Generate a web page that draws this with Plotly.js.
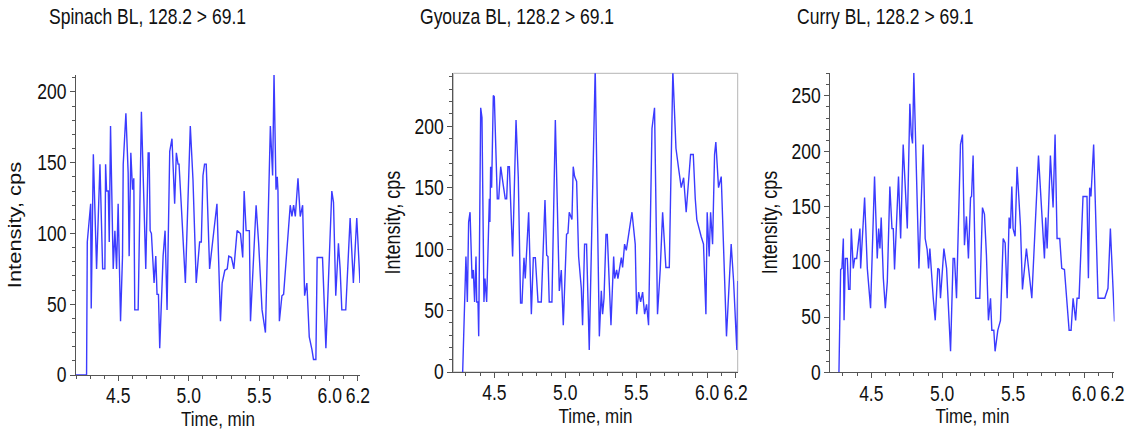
<!DOCTYPE html>
<html>
<head>
<meta charset="utf-8">
<script src="https://cdn.plot.ly/plotly-3.0.1.min.js"></script>
<style>html,body{margin:0;padding:0;background:#fff;}#chart{width:1133px;height:436px;}</style>
</head>
<body>
<div id="chart"></div>
<script>
// ---- data ----
const panelTitles = ["Spinach BL, 128.2 > 69.1", "Gyouza BL, 128.2 > 69.1", "Curry BL, 128.2 > 69.1"];
const xTickVals = [4.5, 5.0, 5.5, 6.0, 6.2];
const xTickText = ["4.5", "5.0", "5.5", "6.0", "6.2"];
const xTitle = "Time, min";
const yTitle = "Intensity, cps";

const spinachTime = [4.200,4.275,4.280,4.304,4.308,4.323,4.346,4.370,4.389,4.405,
4.410,4.417,4.429,4.436,4.445,4.464,4.476,4.488,4.499,4.516,
4.530,4.535,4.554,4.570,4.577,4.589,4.601,4.610,4.617,4.641,
4.664,4.695,4.712,4.719,4.726,4.735,4.754,4.766,4.775,4.785,
4.794,4.818,4.832,4.846,4.865,4.881,4.900,4.912,4.924,4.931,
4.947,4.976,5.011,5.030,5.053,5.077,5.089,5.101,5.112,5.124,
5.148,5.167,5.176,5.200,5.225,5.237,5.256,5.273,5.284,5.303,
5.320,5.343,5.367,5.383,5.393,5.407,5.430,5.438,5.478,5.496,
5.520,5.544,5.579,5.595,5.605,5.619,5.628,5.633,5.643,5.661,
5.673,5.720,5.732,5.744,5.756,5.775,5.791,5.808,5.822,5.838,
5.855,5.874,5.885,5.902,5.911,5.949,5.973,6.015,6.027,6.043,
6.062,6.074,6.086,6.114,6.145,6.168,6.192,6.215];
const spinachValue = [0,0,94,121,47,156,75,149,75,75,
149,130,130,94,176,75,102,75,121,38,
84,149,185,143,84,157,131,139,46,46,
186,75,157,157,102,100,65,84,57,57,
19,84,102,46,158,167,121,157,149,149,
120,65,176,138,65,94,94,141,149,149,
75,94,100,121,38,65,74,75,84,83,
75,102,100,83,130,102,102,38,120,93,
46,30,176,141,213,131,140,130,38,56,
57,120,112,120,112,139,112,120,56,65,
27,18,11,11,83,83,19,130,122,56,
93,75,46,46,111,65,111,65];

const gyouzaTime = [4.277,4.300,4.310,4.319,4.329,4.343,4.352,4.361,4.371,4.376,
4.385,4.390,4.404,4.413,4.427,4.434,4.446,4.465,4.469,4.474,
4.481,4.493,4.500,4.521,4.531,4.545,4.563,4.577,4.587,4.596,
4.606,4.622,4.629,4.653,4.669,4.685,4.695,4.709,4.718,4.742,
4.761,4.775,4.789,4.808,4.831,4.857,4.869,4.878,4.887,4.906,
4.930,4.958,4.972,4.986,5.009,5.019,5.028,5.047,5.056,5.066,
5.080,5.094,5.113,5.122,5.136,5.150,5.169,5.211,5.240,5.254,
5.263,5.273,5.287,5.296,5.322,5.341,5.348,5.362,5.371,5.395,
5.404,5.418,5.430,5.470,5.493,5.503,5.517,5.531,5.545,5.559,
5.573,5.587,5.611,5.629,5.650,5.669,5.686,5.709,5.733,5.758,
5.780,5.798,5.817,5.834,5.852,5.883,5.902,5.916,5.927,5.958,
5.974,5.991,6.000,6.014,6.024,6.038,6.052,6.061,6.080,6.099,
6.136,6.169,6.186,6.209,6.215];
const gyouzaValue = [0,94,57,122,130,76,83,57,94,57,
57,29,215,207,57,76,57,141,122,167,
150,225,224,141,141,167,152,141,141,167,
167,101,94,205,158,56,56,93,76,130,
47,93,93,57,57,140,95,94,57,57,
205,66,83,38,112,113,130,124,167,159,
155,94,68,38,104,104,18,247,29,66,
47,60,112,112,38,94,76,83,76,93,
85,104,99,130,104,47,65,57,65,47,
55,38,198,215,47,83,130,85,85,245,
182,166,150,158,130,177,177,141,124,110,
104,47,130,94,130,104,177,187,150,159,
29,104,74,18,74];

const curryTime = [4.272,4.284,4.293,4.303,4.308,4.317,4.331,4.340,4.350,4.359,
4.373,4.383,4.397,4.411,4.420,4.425,4.453,4.472,4.495,4.523,
4.542,4.552,4.561,4.570,4.585,4.599,4.613,4.631,4.646,4.655,
4.664,4.692,4.707,4.725,4.754,4.772,4.782,4.791,4.800,4.836,
4.866,4.880,4.894,4.904,4.913,4.937,4.951,4.969,4.979,4.988,
4.998,5.012,5.031,5.059,5.077,5.087,5.101,5.129,5.143,5.157,
5.171,5.185,5.200,5.207,5.218,5.237,5.265,5.284,5.298,5.312,
5.326,5.341,5.350,5.364,5.373,5.392,5.411,5.430,5.444,5.458,
5.472,5.481,5.491,5.500,5.514,5.528,5.552,5.566,5.594,5.632,
5.679,5.721,5.730,5.740,5.763,5.782,5.796,5.810,5.829,5.843,
5.862,5.895,5.909,5.923,5.941,5.951,5.965,5.993,6.021,6.031,
6.040,6.049,6.068,6.099,6.146,6.169,6.186,6.215];
const curryValue = [0,93,94,121,47,103,103,75,75,130,
94,103,103,121,130,94,158,94,58,177,
103,130,112,140,85,58,82,168,130,130,
93,177,121,206,130,243,215,207,271,94,
206,121,111,94,112,67,47,94,93,67,
85,112,94,19,103,103,67,206,215,115,
141,103,158,159,196,67,67,149,143,106,
47,67,38,38,19,38,47,121,117,67,
140,130,168,130,123,186,132,75,112,67,
196,103,140,112,196,149,215,121,121,94,
93,38,38,67,47,67,67,159,159,85,
167,159,206,67,67,76,130,46];

const xRanges = [[4.2, 6.215], [4.211, 6.215], [4.211, 6.215]];
const yRanges = [[0, 212], [0, 243], [0, 271]];

// ---- drawing ----
const FONT = "Liberation Sans, Arial, sans-serif";
const LINE = "#3b3bff";
const AX = "#555";

const series = [[spinachTime, spinachValue], [gyouzaTime, gyouzaValue], [curryTime, curryValue]];
const traces = series.map((s, i) => ({
  type: "scatter", mode: "lines",
  x: s[0], y: s[1],
  xaxis: i === 0 ? "x" : "x" + (i + 1),
  yaxis: i === 0 ? "y" : "y" + (i + 1),
  line: {color: LINE, width: 1.4},
  hoverinfo: "skip", showlegend: false
}));

const xDomains = [[0.06708, 0.31774], [0.40009, 0.65110], [0.73283, 0.98367]];
const yDomains = [[0.13991, 0.82798], [0.14679, 0.83188], [0.14610, 0.83326]];

function xAxis(i) {
  return {
    domain: xDomains[i], range: xRanges[i], anchor: i === 0 ? "y" : "y" + (i + 1),
    showline: true, linecolor: AX, linewidth: 1, mirror: false,
    ticks: "outside", ticklen: 5, tickcolor: AX, tickwidth: 1,
    tickmode: "array", tickvals: xTickVals, ticktext: xTickText,
    tickfont: {family: FONT, size: 17.5, color: "#111"},
    minor: {tickmode: "linear", tick0: 4.2, dtick: 0.1, ticks: "outside", ticklen: 3, tickcolor: AX, showgrid: false},
    showgrid: false, zeroline: false, fixedrange: true,
    title: {text: xTitle, font: {family: FONT, size: 17, color: "#111"}, standoff: 7}
  };
}
function yAxis(i) {
  return {
    domain: yDomains[i], range: yRanges[i], anchor: i === 0 ? "x" : "x" + (i + 1),
    showline: true, linecolor: AX, linewidth: 1, mirror: false,
    ticks: "outside", ticklen: 5, tickcolor: AX, tickwidth: 1,
    tickmode: "linear", tick0: 0, dtick: 50,
    tickfont: {family: FONT, size: 17.5, color: "#111"},
    minor: {tickmode: "linear", tick0: 0, dtick: 10, ticks: "outside", ticklen: 3, tickcolor: AX, showgrid: false},
    showgrid: false, zeroline: false, fixedrange: true,
    title: {text: yTitle, font: {family: FONT, size: 18, color: "#111"}, standoff: 10}
  };
}

const titleX = [0.0415, 0.3689, 0.7017];
const layout = {
  width: 1133, height: 436, autosize: false,
  margin: {l: 0, r: 0, t: 0, b: 0},
  paper_bgcolor: "#fff", plot_bgcolor: "#fff",
  xaxis: xAxis(0), yaxis: yAxis(0),
  xaxis2: xAxis(1), yaxis2: yAxis(1),
  xaxis3: xAxis(2), yaxis3: yAxis(2),
  shapes: [{type: "rect", xref: "x2 domain", yref: "y2 domain", x0: 0, x1: 1, y0: 0, y1: 1,
            line: {color: "#b5b5b5", width: 1}, layer: "below"}],
  annotations: panelTitles.map((t, i) => ({
    text: t, xref: "paper", yref: "paper", x: titleX[i], y: 0.961,
    xanchor: "left", yanchor: "middle", showarrow: false,
    font: {family: FONT, size: 17.5, color: "#111"}
  }))
};

// The reference lettering is drawn taller than wide; stretch each text along the screen vertical.
const STRETCH = 1.22;
Plotly.newPlot("chart", traces, layout, {staticPlot: true, displayModeBar: false}).then(gd => {
  gd.querySelectorAll("svg text").forEach(el => {
    if (!el.textContent) return;
    const bb = el.getBBox();
    const base = el.getAttribute("transform") || "";
    let extra;
    if (el.classList.contains("ytitle")) {
      const cx = bb.x + bb.width / 2;
      extra = ` translate(${cx},0) scale(${STRETCH},1) translate(${-cx},0)`;
    } else {
      const cy = bb.y + bb.height / 2;
      extra = ` translate(0,${cy}) scale(1,${STRETCH}) translate(0,${-cy})`;
    }
    el.setAttribute("transform", base + extra);
  });
});
</script>
</body>
</html>
